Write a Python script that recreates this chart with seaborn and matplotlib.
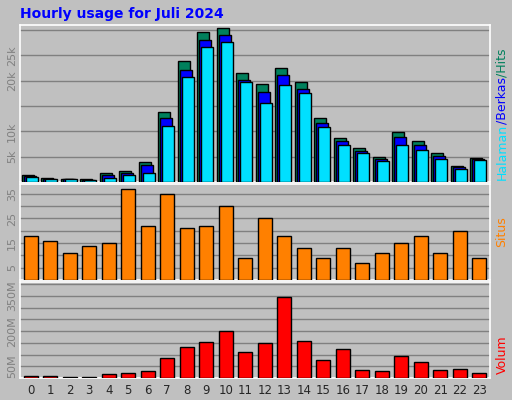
import matplotlib
matplotlib.use("Agg")
import matplotlib.pyplot as plt
import seaborn as sns
import numpy as np
import pandas as pd

hours = list(range(24))
hits = [1400,720,600,500,1860,2260,3860,13860,23800,29660,30400,21460,19260,22600,19800,12600,8600,6800,5000,9800,8000,5800,3200,4800]
files = [1200,600,600,450,1400,1860,3400,12660,22200,28000,29060,20200,17860,21200,18400,11600,8000,6200,4600,8800,7400,5200,3000,4600]
pages = [1000,520,600,400,860,1460,1800,11000,20800,26600,27660,19660,15660,19200,17600,10800,7400,5800,4200,7400,6400,4600,2600,4400]
sites = [18,16,11,14,15,37,22,35,21,22,30,9,25,18,13,9,13,7,11,15,18,11,20,9]
volume = [9,9,5,5,17,21,32,86,132,155,201,109,148,348,159,75,125,36,32,94,67,36,40,21]  # MB

sns.set_style("white")
plt.rcParams['font.family'] = ['DejaVu Sans']
bg = "#c0c0c0"
fig = plt.figure(figsize=(5.12, 4.0), dpi=100, facecolor=bg)
W, H = 512, 400
def axes(y0, y1):
    ax = fig.add_axes([20/W, 1-y1/H, 470/W, (y1-y0)/H])
    ax.set_facecolor(bg)
    for s in ax.spines.values():
        s.set_color("white"); s.set_linewidth(1.2)
    return ax
ax1 = axes(25, 182)
ax2 = axes(184, 280)
ax3 = axes(282, 378)

h = np.array(hours, dtype=float)
df = pd.DataFrame({"h": h, "hits": hits, "files": files, "pages": pages, "sites": sites, "vol": volume})
for off, col, c in [(-0.15, "hits", "#00805c"), (-0.05, "files", "#0000ff"), (0.05, "pages", "#00e0ff")]:
    sns.barplot(x=df["h"] + off, y=df[col], native_scale=True, width=0.6, color=c,
                edgecolor="black", linewidth=1, saturation=1, ax=ax1, zorder=3)
sns.barplot(x=df["h"], y=df["sites"], native_scale=True, width=0.7, color="#ff8000",
            edgecolor="black", linewidth=1, saturation=1, ax=ax2, zorder=3)
sns.barplot(x=df["h"], y=df["vol"], native_scale=True, width=0.7, color="#ff0000",
            edgecolor="black", linewidth=1, saturation=1, ax=ax3, zorder=3)

def setup(ax, ticks, labels, top):
    ax.set_xlim(-0.55, 23.55)
    ax.set_ylim(0, top)
    ax.set_yticks(ticks)
    ax.set_yticklabels(labels, rotation=90, va="center", color="#808080", fontsize=8)
    ax.tick_params(axis="y", length=0, pad=2)
    ax.yaxis.grid(True, color="#808080", linewidth=1, zorder=0)
    ax.set_axisbelow(True)
    ax.set_xlabel(""); ax.set_ylabel("")
setup(ax1, [5000,10000,15000,20000,25000,30000], ["5k","10k","","20k","25k",""], 31000)
setup(ax2, [5,10,15,20,25,30,35], ["5","","15","","25","","35"], 39)
setup(ax3, [50,100,150,200,250,300,350,400], ["50M","","","200M","","","350M",""], 410)
for ax in (ax1, ax2):
    ax.set_xticks([])
ax3.set_xticks(hours)
ax3.set_xticklabels([str(x) for x in hours], fontsize=8.5)
ax3.tick_params(axis="x", length=0, pad=4)

fig.text(20/W, 1-14/H, "Hourly usage for Juli 2024", color="#0000ff", fontsize=10, fontweight="bold", va="center")

renderer = fig.canvas.get_renderer()
ypos = 180.0
for s, c in [("Halaman", "#00e0ff"), ("/Berkas", "#0000ff"), ("/Hits", "#00805c")]:
    t = fig.text(502/W, 1-ypos/H, s, color=c, rotation=90, fontsize=9, ha="center", va="bottom")
    ypos -= t.get_window_extent(renderer).height
fig.text(502/W, 1-232/H, "Situs", color="#ff8000", rotation=90, fontsize=9, ha="center", va="center")
fig.text(502/W, 1-355/H, "Volum", color="#ff0000", rotation=90, fontsize=9, ha="center", va="center")
fig.savefig("out.png", dpi=100, facecolor=bg)
